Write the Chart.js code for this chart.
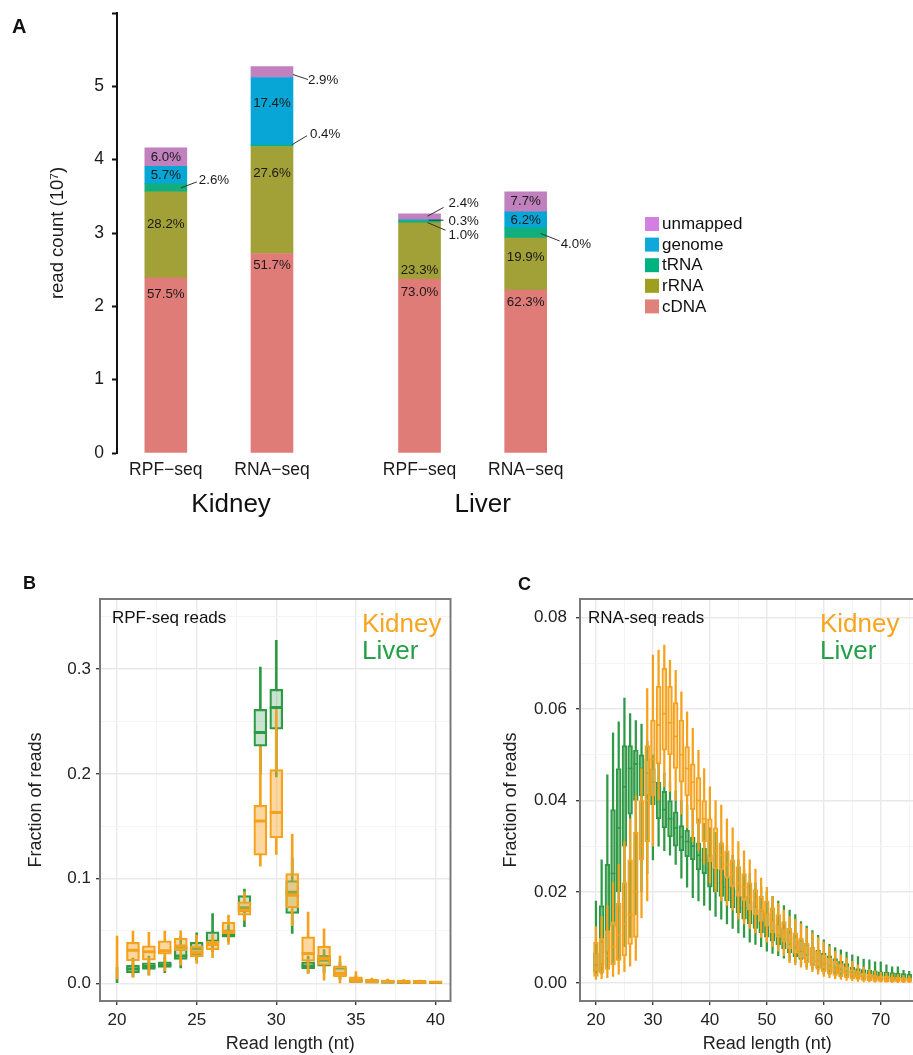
<!DOCTYPE html>
<html lang="en">
<head>
    <meta charset="UTF-8">
    <meta name="viewport" content="width=device-width, initial-scale=1.0">
    <title>Read composition and read length</title>
    <script src="https://cdn.jsdelivr.net/npm/chart.js"></script>
    <style>
        html, body { margin: 0; padding: 0; background: #fff; overflow: hidden; }
        body { width: 913px; height: 1055px; position: relative; }
        canvas { position: absolute; }
        #chartA { left: 0; top: 0; }
        #chartB { left: 0; top: 560px; }
        #chartC { left: 460px; top: 560px; }
    </style>
</head>
<body>
    <canvas id="chartA" width="913" height="530"></canvas>
    <canvas id="chartB" width="460" height="495"></canvas>
    <canvas id="chartC" width="500" height="495"></canvas>
<script>
    // ---------- panel A : read count per class (10^7) ----------
    const samples = ['RPF−seq', 'RNA−seq', 'RPF−seq', 'RNA−seq'];
    const tissues = ['Kidney', 'Liver'];
    const classes = ['cDNA', 'rRNA', 'tRNA', 'genome', 'unmapped'];
    const cDNA     = [2.39, 2.72, 2.37, 2.22];
    const rRNA     = [1.17, 1.46, 0.77, 0.71];
    const tRNA     = [0.11, 0.02, 0.03, 0.14];
    const genome   = [0.24, 0.92, 0.01, 0.22];
    const unmapped = [0.25, 0.15, 0.08, 0.27];
    const pctCDNA     = ['57.5%', '51.7%', '73.0%', '62.3%'];
    const pctRRNA     = ['28.2%', '27.6%', '23.3%', '19.9%'];
    const pctTRNA     = ['2.6%', '0.4%', '1.0%', '4.0%'];
    const pctGenome   = ['5.7%', '17.4%', '0.3%', '6.2%'];
    const pctUnmapped = ['6.0%', '2.9%', '2.4%', '7.7%'];
    const readCountTicks = [0, 1, 2, 3, 4, 5, 6];

    // ---------- panel B : RPF-seq read length, box stats ----------
    const lengthsB = [20, 21, 22, 23, 24, 25, 26, 27, 28, 29, 30, 31, 32, 33, 34, 35, 36, 37, 38, 39, 40];
    const rpfKidneyLo  = [0.004, 0.0057, 0.0076, 0.0117, 0.0172, 0.019, 0.0245, 0.037, 0.06, 0.1117, 0.123, 0.055, 0.0092, 0.003, 0.0003, 0, 0, 0, 0, 0, 0];
    const rpfKidneyQ1  = [null, 0.0213, 0.022, 0.0277, 0.031, 0.0251, 0.032, 0.0474, 0.065, 0.1222, 0.1388, 0.072, 0.021, 0.0172, 0.006, 0.0007, 0.0005, 0.0004, 0.0003, 0.0002, 0.0003];
    const rpfKidneyMed = [null, 0.0315, 0.03, 0.031, 0.0356, 0.0293, 0.037, 0.049, 0.0697, 0.155, 0.163, 0.084, 0.0283, 0.0236, 0.0092, 0.003, 0.002, 0.0015, 0.0012, 0.001, 0.0008];
    const rpfKidneyQ3  = [null, 0.039, 0.0356, 0.0404, 0.043, 0.0356, 0.04, 0.0585, 0.0777, 0.17, 0.204, 0.1048, 0.0442, 0.0353, 0.0166, 0.006, 0.0038, 0.003, 0.003, 0.0028, 0.0012];
    const rpfKidneyHi  = [0.045, 0.0497, 0.0487, 0.0497, 0.05, 0.046, 0.0465, 0.065, 0.087, 0.226, 0.2617, 0.1423, 0.068, 0.052, 0.0258, 0.011, 0.005, 0.004, 0.0035, 0.003, 0.0015];
    const rpfLiverLo   = [0.0006, 0.006, 0.008, 0.01, 0.0146, 0.022, 0.03, 0.04, 0.054, 0.2, 0.197, 0.0475, 0.01, 0.01, 0.004, 0, 0, 0, 0, 0, 0];
    const rpfLiverQ1   = [null, 0.0098, 0.0131, 0.015, 0.0226, 0.026, 0.0389, 0.044, 0.068, 0.2264, 0.2426, 0.0666, 0.014, 0.0162, 0.007, 0.001, 0.0005, 0.0004, 0.0003, 0.0003, 0.0002];
    const rpfLiverMed  = [null, 0.0135, 0.016, 0.0175, 0.026, 0.033, 0.04, 0.0465, 0.072, 0.2394, 0.2633, 0.087, 0.0165, 0.022, 0.0092, 0.002, 0.0015, 0.0012, 0.001, 0.0008, 0.0006];
    const rpfLiverQ3   = [null, 0.0172, 0.0194, 0.0204, 0.035, 0.039, 0.049, 0.051, 0.0838, 0.2617, 0.2808, 0.098, 0.0204, 0.0267, 0.015, 0.004, 0.003, 0.0025, 0.002, 0.0018, 0.001];
    const rpfLiverHi   = [0.015, 0.024, 0.026, 0.025, 0.045, 0.048, 0.0666, 0.056, 0.09, 0.302, 0.3276, 0.12, 0.026, 0.032, 0.02, 0.007, 0.004, 0.0035, 0.003, 0.0025, 0.0015];

    // ---------- panel C : RNA-seq read length, box stats ----------
    const lengthsC = [20, 21, 22, 23, 24, 25, 26, 27, 28, 29, 30, 31, 32, 33, 34, 35, 36, 37, 38, 39, 40, 41, 42, 43, 44, 45, 46, 47,
                      48, 49, 50, 51, 52, 53, 54, 55, 56, 57, 58, 59, 60, 61, 62, 63, 64, 65, 66, 67, 68, 69, 70, 71, 72, 73, 74, 75];
    const rnaKidneyLo  = [0.0008, 0.001, 0.0012, 0.0015, 0.002, 0.0025, 0.0037, 0.005, 0.0143, 0.018, 0.03, 0.04, 0.043, 0.042,
                          0.04, 0.037, 0.034, 0.031, 0.029, 0.026, 0.022, 0.02, 0.018, 0.017, 0.016, 0.014, 0.013, 0.012,
                          0.011, 0.01, 0.009, 0.008, 0.007, 0.006, 0.0045, 0.004, 0.0035, 0.003, 0.0025, 0.002, 0.0015, 0.0012,
                          0.001, 0.0008, 0.0006, 0.0005, 0.0004, 0.0003, 0.0003, 0.0002, 0.0002, 0.0002, 0.0001, 0.0001, 0.0001, 0.0001];
    const rnaKidneyQ1  = [0.0015, 0.0022, 0.003, 0.004, 0.005, 0.006, 0.0085, 0.01, 0.027, 0.031, 0.041, 0.048, 0.051, 0.05,
                          0.047, 0.044, 0.041, 0.038, 0.035, 0.031, 0.0266, 0.025, 0.0248, 0.023, 0.021, 0.019, 0.018, 0.016,
                          0.015, 0.0135, 0.0124, 0.011, 0.01, 0.009, 0.0075, 0.0065, 0.0055, 0.0045, 0.0038, 0.003, 0.0025, 0.002,
                          0.0017, 0.0014, 0.0012, 0.001, 0.0008, 0.0006, 0.0005, 0.0004, 0.0004, 0.0003, 0.0003, 0.0003, 0.0002, 0.0002];
    const rnaKidneyMed = [0.003, 0.004, 0.006, 0.008, 0.0105, 0.013, 0.015, 0.02, 0.03, 0.04, 0.049, 0.0565, 0.059, 0.057,
                          0.054, 0.05, 0.047, 0.044, 0.04, 0.036, 0.031, 0.029, 0.028, 0.026, 0.024, 0.022, 0.021, 0.019,
                          0.018, 0.016, 0.015, 0.0135, 0.012, 0.011, 0.0095, 0.0085, 0.0075, 0.0065, 0.0055, 0.0048, 0.0042, 0.0036,
                          0.003, 0.0026, 0.0022, 0.0018, 0.0015, 0.0013, 0.0011, 0.001, 0.0009, 0.0008, 0.0007, 0.0007, 0.0006, 0.0006];
    const rnaKidneyQ3  = [0.009, 0.0098, 0.0115, 0.0135, 0.0175, 0.022, 0.027, 0.033, 0.04, 0.052, 0.0576, 0.065, 0.0689, 0.065,
                          0.0614, 0.0576, 0.0518, 0.048, 0.045, 0.04, 0.036, 0.034, 0.0307, 0.029, 0.027, 0.0255, 0.024, 0.022,
                          0.0205, 0.019, 0.018, 0.0165, 0.015, 0.0135, 0.012, 0.011, 0.0098, 0.0088, 0.0078, 0.007, 0.0062, 0.0055,
                          0.0048, 0.0042, 0.0036, 0.003, 0.0026, 0.0022, 0.002, 0.0018, 0.0016, 0.0015, 0.0014, 0.0013, 0.0012, 0.0011];
    const rnaKidneyHi  = [0.0124, 0.0146, 0.017, 0.022, 0.026, 0.031, 0.036, 0.041, 0.047, 0.0645, 0.0718, 0.0729, 0.074, 0.0707,
                          0.0685, 0.0638, 0.0594, 0.0558, 0.051, 0.047, 0.043, 0.04, 0.039, 0.036, 0.034, 0.031, 0.029, 0.027,
                          0.025, 0.023, 0.021, 0.019, 0.0175, 0.016, 0.0146, 0.014, 0.013, 0.012, 0.011, 0.01, 0.009, 0.008,
                          0.007, 0.0062, 0.0055, 0.0048, 0.004, 0.0035, 0.003, 0.0027, 0.0024, 0.0022, 0.002, 0.0019, 0.0017, 0.0016];
    const rnaLiverLo   = [0.002, 0.002, 0.003, 0.004, 0.005, 0.008, 0.01, 0.015, 0.02, 0.024, 0.027, 0.03, 0.029, 0.028,
                          0.026, 0.023, 0.021, 0.0187, 0.018, 0.017, 0.016, 0.0146, 0.014, 0.013, 0.012, 0.011, 0.01, 0.009,
                          0.0085, 0.008, 0.007, 0.0065, 0.006, 0.0055, 0.005, 0.0045, 0.004, 0.0035, 0.003, 0.0025, 0.002, 0.0018,
                          0.0015, 0.0013, 0.0012, 0.001, 0.0009, 0.0008, 0.0008, 0.0007, 0.0007, 0.0006, 0.0006, 0.0005, 0.0005, 0.0005];
    const rnaLiverQ1   = [0.0025, 0.004, 0.0066, 0.0124, 0.02, 0.03, 0.037, 0.04, 0.041, 0.041, 0.039, 0.036, 0.034, 0.032,
                          0.03, 0.029, 0.0277, 0.027, 0.0248, 0.024, 0.021, 0.02, 0.019, 0.018, 0.0165, 0.0154, 0.014, 0.013,
                          0.012, 0.011, 0.0101, 0.0092, 0.0084, 0.0075, 0.0066, 0.0058, 0.0052, 0.0046, 0.004, 0.0034, 0.0029, 0.0026,
                          0.0023, 0.002, 0.0018, 0.0015, 0.0014, 0.0012, 0.0011, 0.001, 0.0008, 0.0008, 0.0008, 0.0007, 0.0007, 0.0007];
    const rnaLiverMed  = [0.004, 0.009, 0.015, 0.024, 0.034, 0.043, 0.047, 0.048, 0.047, 0.046, 0.044, 0.04, 0.038, 0.036,
                          0.034, 0.032, 0.031, 0.03, 0.028, 0.027, 0.025, 0.023, 0.022, 0.021, 0.019, 0.018, 0.0165, 0.015,
                          0.014, 0.013, 0.0125, 0.0115, 0.0105, 0.0095, 0.0085, 0.0078, 0.007, 0.0062, 0.0055, 0.0048, 0.0043, 0.0038,
                          0.0034, 0.003, 0.0027, 0.0024, 0.0022, 0.002, 0.0018, 0.0016, 0.0015, 0.0014, 0.0013, 0.0012, 0.0012, 0.0011];
    const rnaLiverQ3   = [0.0066, 0.017, 0.026, 0.038, 0.047, 0.052, 0.052, 0.051, 0.05, 0.049, 0.047, 0.044, 0.042, 0.04,
                          0.0375, 0.0345, 0.0335, 0.032, 0.0307, 0.0296, 0.0281, 0.0255, 0.025, 0.0235, 0.022, 0.0204, 0.019, 0.0178,
                          0.0168, 0.016, 0.0154, 0.014, 0.013, 0.0121, 0.0112, 0.0102, 0.0094, 0.0085, 0.0078, 0.0072, 0.0066, 0.006,
                          0.0054, 0.0048, 0.0043, 0.0035, 0.0032, 0.003, 0.0028, 0.0027, 0.0025, 0.0024, 0.0023, 0.0022, 0.0021, 0.002];
    const rnaLiverHi   = [0.018, 0.027, 0.0456, 0.0548, 0.0572, 0.0624, 0.059, 0.0575, 0.0567, 0.053, 0.05, 0.048, 0.046, 0.044,
                          0.042, 0.04, 0.039, 0.038, 0.036, 0.035, 0.034, 0.033, 0.031, 0.03, 0.028, 0.027, 0.025, 0.024,
                          0.022, 0.021, 0.02, 0.019, 0.018, 0.017, 0.016, 0.015, 0.0135, 0.0125, 0.0115, 0.0105, 0.0095, 0.0085,
                          0.0078, 0.0073, 0.0068, 0.0062, 0.0058, 0.0053, 0.0051, 0.0047, 0.0047, 0.004, 0.0036, 0.0036, 0.0028, 0.0026];

    // ---------- layout / style ----------
    const fontFamily = '"Liberation Sans", Arial, Helvetica, sans-serif';
    Chart.defaults.font.family = fontFamily;
    Chart.defaults.color = '#222';

    const barX = [1, 2, 3.39, 4.39];
    const groupX = [1.615, 3.985];
    const classColors = ['#e07c78', '#a1a137', '#10af80', '#07a6d6', '#c180be'];
    const legendColors = ['#e0827c', '#9e9f1c', '#00b27f', '#0ea8dc', '#d37fe1'];
    const kidneyColor = '#f5a11c', kidneyText = '#f7a51f';
    const liverColor = '#2f9a45', liverText = '#26a048';

    // label spot per segment: number = inside (px below segment top),
    // array = outside [x0, y0, x1, y1, textX, textY] from the bar's right edge / segment middle
    const pctPlacement = [
        [17, 12, 13, 12],
        [32, 27, 48, 19],
        [[-6, 0, 10, -6, 12, -8], [-1, -1, 14, -10, 17, -11.5], [-13, 1, 5, 8.6, 8, 13.6], [-6, 0.5, 13, 8, 14, 11]],
        [9, 26, [-12, 0, 3, 0, 8, 1], 8.5],
        [9, [0, 2.5, 15, 7.5, 15, 8.5], [-13, -0.7, 3, -9.4, 8, -13.4], 9]
    ];

    const pctLabels = {
        id: 'pctLabels',
        afterDatasetsDraw(chart) {
            const ctx = chart.ctx;
            ctx.save();
            ctx.font = '13.3px ' + fontFamily;
            ctx.fillStyle = '#1a1a1a';
            ctx.strokeStyle = '#333';
            ctx.lineWidth = 1;
            ctx.textBaseline = 'middle';
            chart.data.datasets.forEach(function (ds, i) {
                chart.getDatasetMeta(i).data.forEach(function (bar, j) {
                    const spot = pctPlacement[i][j];
                    if (typeof spot === 'number') {
                        ctx.textAlign = 'center';
                        ctx.fillText(ds.pct[j], bar.x, bar.y + spot);
                    } else {
                        const xr = bar.x + bar.width / 2, ym = (bar.y + bar.base) / 2;
                        ctx.beginPath();
                        ctx.moveTo(xr + spot[0], ym + spot[1]);
                        ctx.lineTo(xr + spot[2], ym + spot[3]);
                        ctx.stroke();
                        ctx.textAlign = 'left';
                        ctx.fillText(ds.pct[j], xr + spot[4], ym + spot[5]);
                    }
                });
            });
            ctx.restore();
        }
    };

    const decorA = {
        id: 'decorA',
        afterDraw(chart) {
            const ctx = chart.ctx, xs = chart.scales.x;
            ctx.save();
            ctx.fillStyle = '#111';
            ctx.font = 'bold 20px ' + fontFamily;
            ctx.fillText('A', 12, 33);
            ctx.font = '26px ' + fontFamily;
            ctx.textAlign = 'center';
            tissues.forEach(function (t, k) {
                ctx.fillText(t, xs.getPixelForValue(groupX[k]), 512);
            });
            // legend, top entry = last class
            ctx.textAlign = 'left';
            ctx.textBaseline = 'middle';
            ctx.font = '17px ' + fontFamily;
            for (let k = 0; k < classes.length; k++) {
                const i = classes.length - 1 - k, top = 217 + k * 20.6;
                ctx.fillStyle = legendColors[i];
                ctx.fillRect(645, top, 14, 14);
                ctx.fillStyle = '#111';
                ctx.fillText(classes[i], 662, top + 7.5);
            }
            ctx.restore();
        }
    };

    const layersA = [cDNA, rRNA, tRNA, genome, unmapped];
    const pctA = [pctCDNA, pctRRNA, pctTRNA, pctGenome, pctUnmapped];

    new Chart(document.getElementById('chartA'), {
        type: 'bar',
        data: {
            datasets: classes.map(function (name, i) {
                return {
                    label: name,
                    data: layersA[i].map(function (v, j) { return {x: barX[j], y: v}; }),
                    pct: pctA[i],
                    backgroundColor: classColors[i],
                    borderWidth: 0,
                    barThickness: 42
                };
            })
        },
        options: {
            responsive: false,
            animation: false,
            events: [],
            layout: {padding: {top: 13, right: 313, left: 0, bottom: 0}},
            plugins: {legend: {display: false}, tooltip: {enabled: false}},
            scales: {
                x: {
                    type: 'linear', min: 0.54, max: 5.09, stacked: true, offset: false,
                    afterBuildTicks: function (axis) { axis.ticks = barX.map(function (v) { return {value: v}; }); },
                    afterFit: function (axis) { axis.height = 77; axis.paddingLeft = 0; axis.paddingRight = 0; },
                    ticks: {
                        autoSkip: false, maxRotation: 0, padding: 7, color: '#1a1a1a', font: {size: 17.5},
                        callback: function (v, i) { return samples[i]; }
                    },
                    grid: {display: false, drawTicks: false, offset: false},
                    border: {display: false}
                },
                y: {
                    min: 0, max: 6, stacked: true,
                    afterBuildTicks: function (axis) { axis.ticks = readCountTicks.map(function (v) { return {value: v}; }); },
                    afterFit: function (axis) { axis.width = 117; axis.paddingTop = 0; axis.paddingBottom = 0; },
                    ticks: {
                        padding: 8, color: '#1a1a1a', font: {size: 17.5},
                        callback: function (v) { return v < 6 ? String(v) : ''; }
                    },
                    grid: {drawOnChartArea: false, drawTicks: true, tickLength: 5, tickWidth: 2, tickColor: '#111'},
                    border: {display: true, color: '#111', width: 2},
                    title: {display: true, text: 'read count (10⁷)', color: '#1a1a1a', font: {size: 18.5}, padding: {top: 47, bottom: 0}}
                }
            }
        },
        plugins: [pctLabels, decorA]
    });

    // ---------- panels B and C ----------
    function boxSets(xs, lo, q1, med, q3, hi, color, fill, size, order) {
        const box = [], mid = [], upper = [], lower = [];
        xs.forEach(function (x, i) {
            if (q1[i] === null) {
                lower.push({x: x, y: [lo[i], hi[i]]});
                return;
            }
            box.push({x: x, y: [q1[i], q3[i]]});
            mid.push({x: x, y: med[i]});
            upper.push({x: x, y: [q3[i], hi[i]]});
            lower.push({x: x, y: [lo[i], q1[i]]});
        });
        return [
            {type: 'scatter', data: mid, pointStyle: 'line', pointRadius: size.box / 2, pointBorderColor: color,
             pointBorderWidth: size.median, order: order},
            {type: 'bar', data: box, grouped: false, barThickness: size.box, backgroundColor: fill,
             borderColor: color, borderWidth: size.edge, borderSkipped: false, order: order + 1},
            {type: 'bar', data: upper, grouped: false, barThickness: size.whisker, backgroundColor: color, borderWidth: 0, order: order + 2},
            {type: 'bar', data: lower, grouped: false, barThickness: size.whisker, backgroundColor: color, borderWidth: 0, order: order + 2}
        ];
    }

    function gridColors(major) {
        return {
            color: function (c) { return c.tick && major.includes(c.tick.value) ? '#e9e9e9' : '#f4f4f4'; },
            lineWidth: function (c) { return c.tick && major.includes(c.tick.value) ? 1.4 : 1; },
            tickColor: function (c) { return c.tick && major.includes(c.tick.value) ? '#333' : 'rgba(0,0,0,0)'; },
            tickLength: 4,
            tickWidth: 1.3,
            offset: false
        };
    }

    function lengthAxis(min, max, major, minor) {
        return {
            type: 'linear', min: min, max: max, offset: false,
            afterBuildTicks: function (axis) {
                axis.ticks = major.concat(minor).sort(function (a, b) { return a - b; }).map(function (v) { return {value: v}; });
            },
            afterFit: function (axis) { axis.height = 54; axis.paddingLeft = 0; axis.paddingRight = 0; },
            ticks: {
                autoSkip: false, maxRotation: 0, padding: 5, color: '#222', font: {size: 17},
                callback: function (v) { return major.includes(v) ? String(v) : ''; }
            },
            grid: gridColors(major),
            border: {display: false}
        };
    }

    function fractionAxis(min, max, major, minor, digits, width, titlePad, tickPad) {
        return {
            type: 'linear', min: min, max: max,
            afterBuildTicks: function (axis) {
                axis.ticks = major.concat(minor).sort(function (a, b) { return a - b; }).map(function (v) { return {value: v}; });
            },
            afterFit: function (axis) { axis.width = width; axis.paddingTop = 0; axis.paddingBottom = 0; },
            ticks: {
                padding: tickPad, color: '#222', font: {size: 17},
                callback: function (v) { return major.includes(v) ? v.toFixed(digits) : ''; }
            },
            grid: gridColors(major),
            border: {display: false},
            title: {display: true, text: 'Fraction of reads', color: '#222', font: {size: 18}, padding: {top: titlePad, bottom: 0}}
        };
    }

    const panelDecor = {
        id: 'panelDecor',
        afterDraw(chart, args, opts) {
            const ctx = chart.ctx, a = chart.chartArea;
            ctx.save();
            ctx.strokeStyle = '#7a7a7a';
            ctx.lineWidth = 2;
            ctx.strokeRect(a.left, a.top, a.right - a.left, a.bottom - a.top);
            ctx.textBaseline = 'alphabetic';
            ctx.textAlign = 'left';
            ctx.fillStyle = '#111';
            ctx.font = 'bold 18px ' + fontFamily;
            ctx.fillText(opts.tag, opts.tagX, opts.tagY);
            ctx.font = '17px ' + fontFamily;
            ctx.fillText(opts.note, a.left + opts.noteDx, a.top + 24);
            ctx.font = '26px ' + fontFamily;
            ctx.fillStyle = kidneyText;
            ctx.fillText(tissues[0], a.left + opts.keyDx, a.top + 33);
            ctx.fillStyle = liverText;
            ctx.fillText(tissues[1], a.left + opts.keyDx, a.top + 60);
            ctx.fillStyle = '#222';
            ctx.font = '18px ' + fontFamily;
            ctx.textAlign = 'center';
            ctx.fillText('Read length (nt)', (a.left + a.right) / 2 + opts.titleDx, chart.height - 6);
            ctx.restore();
        }
    };

    const sizeB = {box: 13, whisker: 2, edge: 1.6, median: 3};
    const sizeC = {box: 4.8, whisker: 1.6, edge: 1.3, median: 1.6};

    new Chart(document.getElementById('chartB'), {
        type: 'bar',
        data: {
            datasets: boxSets(lengthsB, rpfKidneyLo, rpfKidneyQ1, rpfKidneyMed, rpfKidneyQ3, rpfKidneyHi,
                              kidneyColor, 'rgba(250, 178, 65, 0.5)', sizeB, 0)
                .concat(boxSets(lengthsB, rpfLiverLo, rpfLiverQ1, rpfLiverMed, rpfLiverQ3, rpfLiverHi,
                                liverColor, 'rgba(60, 160, 85, 0.28)', sizeB, 3))
        },
        options: {
            responsive: false,
            animation: false,
            events: [],
            layout: {padding: {top: 39, right: 9, left: 0, bottom: 0}},
            plugins: {
                legend: {display: false}, tooltip: {enabled: false},
                panelDecor: {tag: 'B', tagX: 23, tagY: 29, note: 'RPF-seq reads', noteDx: 12, keyDx: 262, titleDx: 15}
            },
            scales: {
                x: lengthAxis(18.93, 40.94, [20, 25, 30, 35, 40], [22.5, 27.5, 32.5, 37.5]),
                y: fractionAxis(-0.017, 0.367, [0, 0.1, 0.2, 0.3], [0.05, 0.15, 0.25, 0.35], 1, 100, 25, 5)
            }
        },
        plugins: [panelDecor]
    });

    new Chart(document.getElementById('chartC'), {
        type: 'bar',
        data: {
            datasets: boxSets(lengthsC, rnaKidneyLo, rnaKidneyQ1, rnaKidneyMed, rnaKidneyQ3, rnaKidneyHi,
                              kidneyColor, 'rgba(250, 178, 65, 0.5)', sizeC, 0)
                .concat(boxSets(lengthsC, rnaLiverLo, rnaLiverQ1, rnaLiverMed, rnaLiverQ3, rnaLiverHi,
                                liverColor, 'rgba(47, 154, 69, 0.6)', sizeC, 3))
        },
        options: {
            responsive: false,
            animation: false,
            events: [],
            layout: {padding: {top: 39, right: 4, left: 0, bottom: 0}},
            plugins: {
                legend: {display: false}, tooltip: {enabled: false},
                panelDecor: {tag: 'C', tagX: 58, tagY: 30, note: 'RNA-seq reads', noteDx: 8, keyDx: 240, titleDx: 0}
            },
            scales: {
                x: lengthAxis(17.2, 82.93, [20, 30, 40, 50, 60, 70, 80], [25, 35, 45, 55, 65, 75]),
                y: fractionAxis(-0.0039, 0.0841, [0, 0.02, 0.04, 0.06, 0.08], [0.01, 0.03, 0.05, 0.07], 2, 120, 40, 9)
            }
        },
        plugins: [panelDecor]
    });
</script>
</body>
</html>
